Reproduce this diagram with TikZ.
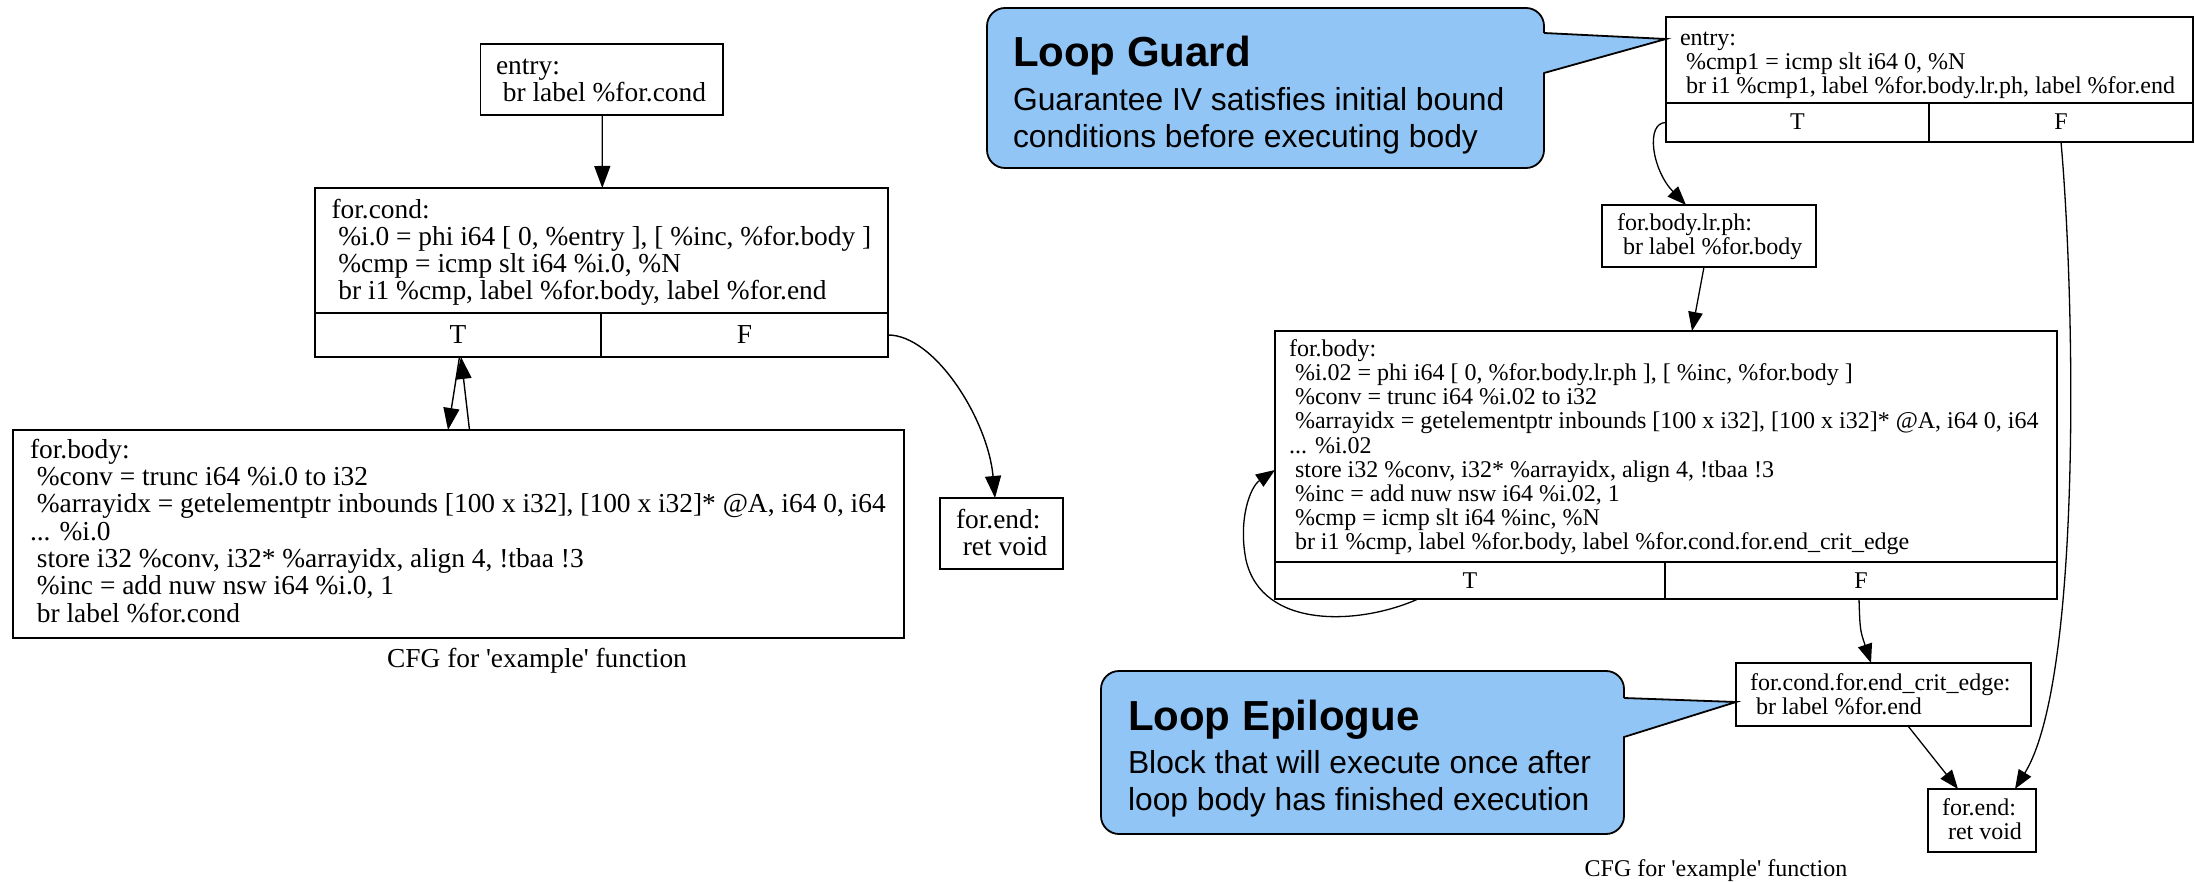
\documentclass[tikz,border=0pt]{standalone}
\usepackage{fontspec}
\setmainfont{Liberation Serif}
\newfontfamily\calloutfont{Liberation Sans}
\usetikzlibrary{arrows.meta,fit}
\definecolor{callblue}{RGB}{145,197,245}
\newcommand{\lsize}{\fontsize{27.4pt}{27.3pt}\selectfont}
\newcommand{\rsize}{\fontsize{24pt}{24.15pt}\selectfont}
\newcommand{\codelines}[2]{\vtop{\baselineskip=#1\lineskiplimit=-1000pt\lineskip=0pt #2}}
\begin{document}
\begin{tikzpicture}[x=1pt,y=-1pt,
  blk/.style={draw, line width=1.7pt, inner sep=0pt, outer sep=0pt, rectangle},
  rblk/.style={draw, line width=1.45pt, inner sep=0pt, outer sep=0pt, rectangle},
  txt/.style={anchor=base west, inner sep=0pt, outer sep=0pt},
  celltxt/.style={anchor=base, inner sep=0pt, outer sep=0pt},
  ledge/.style={line width=1.4pt, -{Triangle[length=22pt,width=16pt]}},
  redge/.style={line width=1.3pt, -{Triangle[length=19pt,width=14.5pt]}},
  callout/.style={draw, line width=1.8pt, fill=callblue, rounded corners=18pt, inner sep=0pt, outer sep=0pt},
  pointer/.style={draw, line width=1.8pt, line join=miter},
  titlefont/.style={font=\calloutfont\bfseries\fontsize{42pt}{42pt}\selectfont},
  bodyfont/.style={font=\calloutfont\fontsize{31.8pt}{37pt}\selectfont}
]
\useasboundingbox (0,0) rectangle (2195,882);

% ---------------- left graph ----------------
\node[blk, fit={(480.5,44)(723,115)}] (lentry) {};
\node[blk, fit={(315,188)(888,357)}] (lcond) {};
\node[blk, fit={(315,313)(601,357)}] (lcondT) {};
\node[blk, fit={(601,313)(888,357)}] (lcondF) {};
\node[blk, fit={(13,430)(904,638)}] (lbody) {};
\node[blk, fit={(940,498)(1063,569)}] (lend) {};

\node[txt, font=\lsize] (lentrytxt) at (496,74.5) {\codelines{27.3pt}{\hbox{entry:}\hbox{\ br label \%for.cond}}};
\node[txt, font=\lsize] (lcondtxt) at (331.5,218.3) {\codelines{27.2pt}{%
  \hbox{for.cond:}%
  \hbox{\ \%i.0 = phi i64 [ 0, \%entry ], [ \%inc, \%for.body ]}%
  \hbox{\ \%cmp = icmp slt i64 \%i.0, \%N}%
  \hbox{\ br i1 \%cmp, label \%for.body, label \%for.end}}};
\node[celltxt, font=\lsize] (lTtxt) at (lcondT.center |- 0,343.5) {T};
\node[celltxt, font=\lsize] (lFtxt) at (lcondF.center |- 0,343.5) {F};
\node[txt, font=\lsize] (lbodytxt) at (30,458.3) {\codelines{27.3pt}{%
  \hbox{for.body:}%
  \hbox{\ \%conv = trunc i64 \%i.0 to i32}%
  \hbox{\ \%arrayidx = getelementptr inbounds [100 x i32], [100 x i32]* @A, i64 0, i64}%
  \hbox{... \%i.0}%
  \hbox{\ store i32 \%conv, i32* \%arrayidx, align 4, !tbaa !3}%
  \hbox{\ \%inc = add nuw nsw i64 \%i.0, 1}%
  \hbox{\ br label \%for.cond}}};
\node[txt, font=\lsize] (lendtxt) at (956,528) {\codelines{27.3pt}{\hbox{for.end:}\hbox{\ ret void}}};
\node[celltxt, font=\lsize] (lcap) at (537,667) {CFG for \textquotesingle example\textquotesingle\ function};

\draw[ledge] ([xshift=0.5pt]lentry.south) -- ([xshift=0.8pt]lcond.north);
\draw[ledge] ([xshift=1.5pt]lcondT.south) -- ([xshift=-10.5pt]lbody.north);
\draw[ledge] ([xshift=11pt]lbody.north) -- ([xshift=3pt]lcondT.south);
\draw[ledge] (lcondF.east) .. controls (935,335) and (988,420) .. ([xshift=-6.5pt]lend.north);

% ---------------- right graph ----------------
\node[rblk, fit={(1666,17)(2193,142)}] (rentry) {};
\node[rblk, fit={(1666,103)(1929,142)}] (rentryT) {};
\node[rblk, fit={(1929,103)(2193,142)}] (rentryF) {};
\node[rblk, fit={(1602,205)(1816,267)}] (rlrph) {};
\node[rblk, fit={(1275,331)(2057,599)}] (rbody) {};
\node[rblk, fit={(1275,562)(1665,599)}] (rbodyT) {};
\node[rblk, fit={(1665,562)(2057,599)}] (rbodyF) {};
\node[rblk, fit={(1736,663)(2031,726)}] (rcrit) {};
\node[rblk, fit={(1928,789)(2036,852)}] (rend) {};

\node[txt, font=\rsize] (rentrytxt) at (1680,45.3) {\codelines{24pt}{%
  \hbox{entry:}%
  \hbox{\ \%cmp1 = icmp slt i64 0, \%N}%
  \hbox{\ br i1 \%cmp1, label \%for.body.lr.ph, label \%for.end}}};
\node[celltxt, font=\rsize] (rTtxt) at (rentryT.center |- 0,129.5) {T};
\node[celltxt, font=\rsize] (rFtxt) at (rentryF.center |- 0,129.5) {F};
\node[txt, font=\rsize] (rlrphtxt) at (1617,230.5) {\codelines{24.2pt}{\hbox{for.body.lr.ph:}\hbox{\ br label \%for.body}}};
\node[txt, font=\rsize] (rbodytxt) at (1289,356.5) {\codelines{24.15pt}{%
  \hbox{for.body:}%
  \hbox{\ \%i.02 = phi i64 [ 0, \%for.body.lr.ph ], [ \%inc, \%for.body ]}%
  \hbox{\ \%conv = trunc i64 \%i.02 to i32}%
  \hbox{\ \%arrayidx = getelementptr inbounds [100 x i32], [100 x i32]* @A, i64 0, i64}%
  \hbox{... \%i.02}%
  \hbox{\ store i32 \%conv, i32* \%arrayidx, align 4, !tbaa !3}%
  \hbox{\ \%inc = add nuw nsw i64 \%i.02, 1}%
  \hbox{\ \%cmp = icmp slt i64 \%inc, \%N}%
  \hbox{\ br i1 \%cmp, label \%for.body, label \%for.cond.for.end\_crit\_edge}}};
\node[celltxt, font=\rsize] (rbTtxt) at (rbodyT.center |- 0,588.3) {T};
\node[celltxt, font=\rsize] (rbFtxt) at (rbodyF.center |- 0,588.3) {F};
\node[txt, font=\rsize] (rcrittxt) at (1750,690) {\codelines{24pt}{\hbox{for.cond.for.end\_crit\_edge:}\hbox{\ br label \%for.end}}};
\node[txt, font=\rsize] (rendtxt) at (1942,815.5) {\codelines{24pt}{\hbox{for.end:}\hbox{\ ret void}}};
\node[celltxt, font=\rsize] (rcap) at (1716,876) {CFG for \textquotesingle example\textquotesingle\ function};

\draw[redge] (rentryT.west) .. controls (1645,122.5) and (1652,170) .. ([xshift=-23pt]rlrph.north);
\draw[redge] ([xshift=-5pt]rlrph.south) -- ([xshift=26pt]rbody.north);
\draw[redge] (rentryF.south) .. controls (2075,300) and (2082,680) .. ([xshift=33pt]rend.north);
\draw[redge] ([xshift=-2pt]rbodyF.south) .. controls (1860,630) .. ([xshift=-12.5pt]rcrit.north);
\draw[redge] ([xshift=-52pt]rbodyT.south) .. controls (1360,625) and (1262,630) .. (1246,560) .. controls (1238,520) and (1250,487) .. ([yshift=-5pt]rbody.west);
\draw[redge] ([xshift=24.5pt]rcrit.south) -- ([xshift=-24pt]rend.north);

% ---------------- callouts ----------------
\node[callout, fit={(987,8)(1544,168)}] (guard) {};
\fill[callblue] (1541,33) -- (1666,39) -- (1541,73) -- cycle;
\draw[pointer] (1544,33) -- (1666,39) -- (1544,73);
\node[txt, titlefont] (guardtitle) at (1013,67) {Loop Guard};
\node[txt, bodyfont] (guardbody) at (1013,110.5) {\codelines{37pt}{\hbox{Guarantee IV satisfies initial bound}\hbox{conditions before executing body}}};

\node[callout, fit={(1101,671)(1624,834)}] (epi) {};
\fill[callblue] (1621,698) -- (1736,702) -- (1621,737) -- cycle;
\draw[pointer] (1624,698) -- (1736,702) -- (1624,737);
\node[txt, titlefont] (epititle) at (1128,730) {Loop Epilogue};
\node[txt, bodyfont] (epibody) at (1128,773.5) {\codelines{37pt}{\hbox{Block that will execute once after}\hbox{loop body has finished execution}}};
\end{tikzpicture}
\end{document}
